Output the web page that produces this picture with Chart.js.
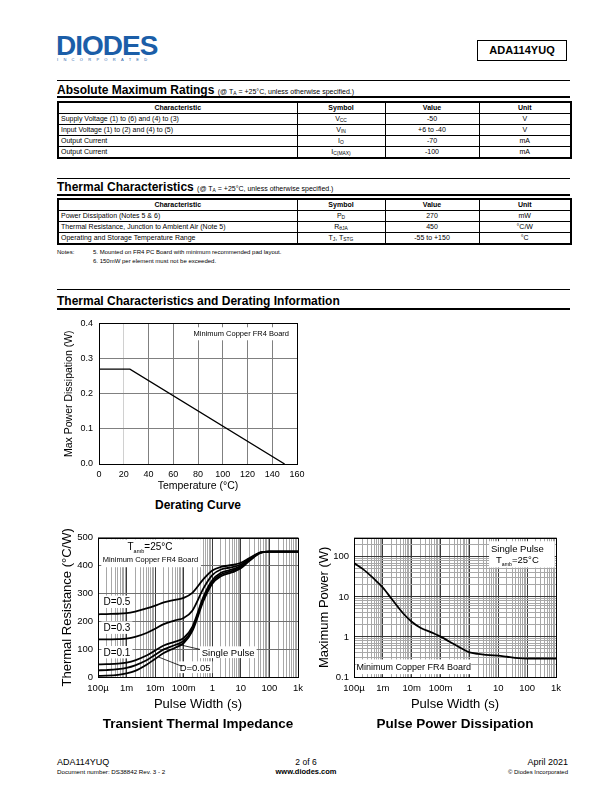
<!DOCTYPE html>
<html><head><meta charset="utf-8">
<script src="https://cdn.jsdelivr.net/npm/chart.js@4.4.1/dist/chart.umd.min.js"></script>
<style>
body{margin:0;background:#fff;font-family:"Liberation Sans",Arial,sans-serif;color:#000}
#page{position:relative;width:612px;height:792px;overflow:hidden;background:#fff}
.t{position:absolute;white-space:nowrap;line-height:1}
.hl{position:absolute;left:57px;width:513px;background:#000}
.h{font-weight:bold;font-size:12px}
.h span{font-weight:normal;font-size:7px}
sub{font-size:70%;vertical-align:-1px;line-height:0}
table{position:absolute;left:57px;border-collapse:collapse;table-layout:fixed;border:2px solid #000;width:513px}
td{border:1px solid #000;height:10px;padding:0 2px;font-size:7px;line-height:10px;white-space:nowrap;overflow:hidden;text-align:center;color:#000}
td.l{text-align:left}
tr.hd td{font-weight:bold}
canvas{position:absolute}
</style></head><body><div id="page">

<div class="t" style="left:56px;top:32px;font-size:28px;font-weight:bold;color:#1b5ea8;letter-spacing:-1px">DIODES</div>
<div class="t" style="left:57px;top:58px;font-size:4px;letter-spacing:5.3px;color:#1b5ea8">INCORPORATED</div>
<div class="t" style="left:477px;top:40px;width:88px;height:19px;border:1.5px solid #000;font-weight:bold;font-size:11px;line-height:19px;text-align:center">ADA114YUQ</div>

<div class="hl" style="top:80px;height:1px"></div>
<div class="t h" style="left:57px;top:84px">Absolute Maximum Ratings <span>(@ T<sub>A</sub> = +25°C, unless otherwise specified.)</span></div>
<div class="hl" style="top:96px;height:2px"></div>
<table style="top:101px">
<colgroup><col style="width:239px"><col style="width:88px"><col style="width:94px"><col style="width:92px"></colgroup>
<tr class="hd"><td>Characteristic</td><td>Symbol</td><td>Value</td><td>Unit</td></tr>
<tr><td class="l">Supply Voltage (1) to (6) and (4) to (3)</td><td>V<sub>CC</sub></td><td>-50</td><td>V</td></tr>
<tr><td class="l">Input Voltage (1) to (2) and (4) to (5)</td><td>V<sub>IN</sub></td><td>+6 to -40</td><td>V</td></tr>
<tr><td class="l">Output Current</td><td>I<sub>O</sub></td><td>-70</td><td>mA</td></tr>
<tr><td class="l">Output Current</td><td>I<sub>C(MAX)</sub></td><td>-100</td><td>mA</td></tr>
</table>

<div class="hl" style="top:178px;height:1px"></div>
<div class="t h" style="left:57px;top:181px">Thermal Characteristics <span>(@ T<sub>A</sub> = +25°C, unless otherwise specified.)</span></div>
<div class="hl" style="top:194px;height:2px"></div>
<table style="top:198px">
<colgroup><col style="width:239px"><col style="width:88px"><col style="width:94px"><col style="width:92px"></colgroup>
<tr class="hd"><td>Characteristic</td><td>Symbol</td><td>Value</td><td>Unit</td></tr>
<tr><td class="l">Power Dissipation (Notes 5 &amp; 6)</td><td>P<sub>D</sub></td><td>270</td><td>mW</td></tr>
<tr><td class="l">Thermal Resistance, Junction to Ambient Air (Note 5)</td><td>R<sub>θJA</sub></td><td>450</td><td>°C/W</td></tr>
<tr><td class="l">Operating and Storage Temperature Range</td><td>T<sub>J</sub>, T<sub>STG</sub></td><td>-55 to +150</td><td>°C</td></tr>
</table>
<div class="t" style="left:57px;top:249px;font-size:6px">Notes:</div>
<div class="t" style="left:93px;top:249px;font-size:6px">5. Mounted on FR4 PC Board with minimum recommended pad layout.</div>
<div class="t" style="left:93px;top:258px;font-size:6px">6. 150mW per element must not be exceeded.</div>

<div class="hl" style="top:289px;height:1px"></div>
<div class="t h" style="left:57px;top:295px">Thermal Characteristics and Derating Information</div>
<div class="hl" style="top:308px;height:2px"></div>

<canvas id="derating" width="262" height="184" style="left:50px;top:312px"></canvas>
<div class="t" style="left:50px;width:296px;top:499px;text-align:center;font-weight:bold;font-size:12px">Derating Curve</div>

<canvas id="transient" width="260" height="190" style="left:50px;top:527px"></canvas>
<div class="t" style="left:48px;width:300px;top:717px;text-align:center;font-weight:bold;font-size:13.5px">Transient Thermal Impedance</div>

<canvas id="pulse" width="262" height="190" style="left:310px;top:527px"></canvas>
<div class="t" style="left:305px;width:300px;top:717px;text-align:center;font-weight:bold;font-size:13.5px">Pulse Power Dissipation</div>

<div class="t" style="left:57px;top:758px;font-size:9px">ADA114YUQ</div>
<div class="t" style="left:57px;top:769px;font-size:6.2px">Document number: DS38842 Rev. 3 - 2</div>
<div class="t" style="left:206px;width:200px;top:758px;font-size:8.5px;text-align:center">2 of 6</div>
<div class="t" style="left:206px;width:200px;top:768px;font-size:7.5px;font-weight:bold;text-align:center">www.diodes.com</div>
<div class="t" style="left:368px;width:200px;top:758px;font-size:9px;text-align:right">April 2021</div>
<div class="t" style="left:368px;width:200px;top:769px;font-size:6px;text-align:right">© Diodes Incorporated</div>
</div>

<script>
// ---------- data ----------
const deratingTemp = [0, 25, 150];
const deratingPower = [0.27, 0.27, 0];
const pulseWidth = [1e-4, 2e-4, 5e-4, 1e-3, 2e-3, 5e-3, 1e-2, 2e-2, 5e-2, 1e-1, 2e-1, 5e-1, 1, 2, 5, 10, 20, 50, 100, 200, 500, 1000];
const zthD05 = [225, 226, 227, 229, 235, 246, 256, 268, 277, 284, 302, 352, 382, 395, 402, 410, 427, 447, 450, 450, 450, 450];
const zthD03 = [135, 135, 136, 138, 144, 158, 173, 190, 203, 212, 238, 320, 366, 386, 394, 404, 424, 447, 450, 450, 450, 450];
const zthD01 = [45, 46, 48, 52, 60, 77, 95, 113, 127, 140, 180, 290, 347, 374, 386, 398, 421, 447, 450, 450, 450, 450];
const zthD005 = [24, 25, 28, 33, 42, 60, 80, 99, 115, 130, 172, 283, 340, 368, 381, 394, 419, 446, 450, 450, 450, 450];
const zthSingle = [4, 5, 8, 13, 22, 44, 65, 86, 105, 122, 165, 275, 335, 362, 376, 390, 417, 446, 450, 450, 450, 450];
const pulsePower = [70, 50, 28, 17, 9, 3.9, 2.4, 1.7, 1.28, 1.02, 0.77, 0.53, 0.41, 0.38, 0.35, 0.343, 0.32, 0.295, 0.29, 0.29, 0.29, 0.29];
const timeTickValues = [1e-4, 1e-3, 1e-2, 1e-1, 1, 10, 100, 1000];
const timeTickLabels = ['100µ', '1m', '10m', '100m', '1', '10', '100', '1k'];
const powerLogTickValues = [0.1, 1, 10, 100];
const powerLogTickLabels = ['0.1', '1', '10', '100'];

// ---------- helpers ----------
const FAM = '"Liberation Sans", Arial, sans-serif';
Chart.defaults.font.family = FAM;
Chart.defaults.color = '#000';
const isDecade = v => Math.abs(Math.log10(v) - Math.round(Math.log10(v))) < 1e-6;
function logTicks(minExp, maxExp, maxVal) {
  const out = [];
  for (let e = minExp; e <= maxExp; e++) for (let m = 1; m <= 9; m++) {
    const v = +(m * Math.pow(10, e)).toPrecision(3);
    if (v <= maxVal * 1.000001) out.push(v);
  }
  return out;
}
function lookup(vals, labels, v) {
  for (let i = 0; i < vals.length; i++) if (Math.abs(v / vals[i] - 1) < 1e-6) return labels[i];
  return '';
}
function drawRich(ctx, segs, cx, cy, size, bg) {
  let w = 0;
  const parts = segs.map(s => {
    const f = (s.sub ? size * 0.55 : size) + 'px ' + FAM;
    ctx.font = f; const mw = ctx.measureText(s.t).width; w += mw;
    return {t: s.t, f, mw, sub: s.sub};
  });
  if (bg) { ctx.fillStyle = '#fff'; ctx.fillRect(cx - w / 2 - 2, cy - size * 0.62, w + 4, size * 1.24); }
  let x = cx - w / 2; ctx.fillStyle = '#000'; ctx.textAlign = 'left'; ctx.textBaseline = 'alphabetic';
  const base = cy + size * 0.36;
  parts.forEach(p => { ctx.font = p.f; ctx.fillText(p.t, x, base + (p.sub ? size * 0.28 : 0)); x += p.mw; });
}
function makeNotes(cfg) {
  return {
    id: 'notes',
    beforeDatasetsDraw(chart) {
      const {ctx} = chart, xs = chart.scales.x, ys = chart.scales.y;
      ctx.save();
      (cfg.boxes || []).forEach(b => {
        const x1 = xs.getPixelForValue(b[0]), x2 = xs.getPixelForValue(b[1]);
        const y1 = ys.getPixelForValue(b[2]), y2 = ys.getPixelForValue(b[3]);
        ctx.fillStyle = '#fff';
        ctx.fillRect(Math.min(x1, x2), Math.min(y1, y2), Math.abs(x2 - x1), Math.abs(y2 - y1));
      });
      (cfg.labels || []).forEach(l => drawRich(ctx, l.segs, xs.getPixelForValue(l.x), ys.getPixelForValue(l.y), l.size, l.bg));
      ctx.restore();
    },
    afterDatasetsDraw(chart) {
      const {ctx} = chart, xs = chart.scales.x, ys = chart.scales.y;
      ctx.save(); ctx.strokeStyle = '#000'; ctx.lineWidth = 0.8;
      (cfg.lines || []).forEach(l => {
        ctx.beginPath();
        ctx.moveTo(xs.getPixelForValue(l[0]), ys.getPixelForValue(l[1]));
        ctx.lineTo(xs.getPixelForValue(l[2]), ys.getPixelForValue(l[3]));
        ctx.stroke();
      });
      ctx.restore();
    },
    afterDraw(chart) {
      const {ctx, chartArea: a} = chart;
      ctx.save();
      ctx.strokeStyle = '#000'; ctx.lineWidth = 1;
      ctx.strokeRect(Math.round(a.left) + 0.5, Math.round(a.top) + 0.5, Math.round(a.right - a.left), Math.round(a.bottom - a.top));
      ctx.fillStyle = '#000'; ctx.textAlign = 'center'; ctx.textBaseline = 'middle';
      if (cfg.yTitle) {
        ctx.font = cfg.yTitle.size + 'px ' + FAM;
        ctx.save(); ctx.translate(a.left - cfg.yTitle.offset, (a.top + a.bottom) / 2); ctx.rotate(-Math.PI / 2);
        ctx.fillText(cfg.yTitle.text, 0, 0); ctx.restore();
      }
      if (cfg.xTitle) {
        ctx.font = cfg.xTitle.size + 'px ' + FAM;
        ctx.fillText(cfg.xTitle.text, (a.left + a.right) / 2, a.bottom + cfg.xTitle.offset);
      }
      ctx.restore();
    }
  };
}
const baseOpts = (pad) => ({
  responsive: false, animation: false, devicePixelRatio: 1,
  layout: {padding: pad},
  plugins: {legend: {display: false}, tooltip: {enabled: false}},
  elements: {point: {radius: 0}}
});

// ---------- Derating curve ----------
(function () {
  const o = baseOpts({left: 0, top: 9, right: 15, bottom: 0});
  o.scales = {
    x: {type: 'linear', min: 0, max: 160,
      afterFit: s => { s.height = 32; },
      ticks: {stepSize: 20, padding: 5, maxRotation: 0, font: {size: 9}},
      grid: {drawTicks: false, color: c => (c.tick && c.tick.value === 20) ? '#d0d0d0' : '#808080'},
      border: {display: false}},
    y: {type: 'linear', min: 0, max: 0.4,
      afterFit: s => { s.width = 49; },
      ticks: {stepSize: 0.1, padding: 6, font: {size: 9}, callback: v => v.toFixed(1)},
      grid: {drawTicks: false, color: '#808080'},
      border: {display: false}}
  };
  new Chart(document.getElementById('derating'), {
    type: 'line',
    data: {datasets: [{data: deratingTemp.map((t, i) => ({x: t, y: deratingPower[i]})), borderColor: '#000', borderWidth: 1.3, tension: 0}]},
    options: o,
    plugins: [makeNotes({
      boxes: [[73, 157, 0.389, 0.352]],
      labels: [{x: 115, y: 0.372, size: 7.5, segs: [{t: 'Minimum Copper FR4 Board'}]}],
      yTitle: {text: 'Max Power Dissipation (W)', size: 10.5, offset: 30},
      xTitle: {text: 'Temperature (°C)', size: 10.5, offset: 22}
    })]
  });
})();

// ---------- log x axis ----------
function timeAxis() {
  return {type: 'logarithmic', min: 1e-4, max: 1000,
    afterBuildTicks: s => { s.ticks = logTicks(-4, 3, 1000).map(v => ({value: v, major: isDecade(v)})); },
    afterFit: s => { s.height = 40; },
    ticks: {autoSkip: false, maxRotation: 0, padding: 6, font: {size: 9.5},
      callback: v => lookup(timeTickValues, timeTickLabels, v)},
    grid: {drawTicks: false, color: c => (c.tick && isDecade(c.tick.value)) ? '#3a3a3a' : '#a8a8a8'},
    border: {display: false}};
}

// ---------- Transient thermal impedance ----------
(function () {
  const o = baseOpts({left: 0, top: 10, right: 12, bottom: 0});
  o.scales = {
    x: timeAxis(),
    y: {type: 'linear', min: 0, max: 500,
      afterFit: s => { s.width = 48; },
      ticks: {stepSize: 100, padding: 5, font: {size: 9.5}},
      grid: {drawTicks: false, color: '#707070'},
      border: {display: false}}
  };
  const series = [zthD05, zthD03, zthD01, zthD005, zthSingle];
  new Chart(document.getElementById('transient'), {
    type: 'line',
    data: {datasets: series.map(s => ({data: pulseWidth.map((t, i) => ({x: t, y: s[i]})), borderColor: '#000', borderWidth: 1.8, cubicInterpolationMode: 'monotone', tension: 0.4}))},
    options: o,
    plugins: [makeNotes({
      boxes: [[1.3e-4, 0.4, 394, 494]],
      labels: [
        {x: 6.6e-3, y: 468, size: 10, segs: [{t: 'T'}, {t: 'amb', sub: 1}, {t: '=25°C'}]},
        {x: 6.8e-3, y: 422, size: 7.5, segs: [{t: 'Minimum Copper FR4 Board'}]},
        {x: 4.6e-4, y: 270, size: 10, bg: 1, segs: [{t: 'D=0.5'}]},
        {x: 4.6e-4, y: 177, size: 10, bg: 1, segs: [{t: 'D=0.3'}]},
        {x: 4.6e-4, y: 89, size: 10, bg: 1, segs: [{t: 'D=0.1'}]},
        {x: 3.6, y: 89, size: 9.5, bg: 1, segs: [{t: 'Single Pulse'}]},
        {x: 0.25, y: 35, size: 9.5, bg: 1, segs: [{t: 'D=0.05'}]}
      ],
      lines: [[0.37, 99, 0.065, 117], [0.089, 38, 0.0129, 72]],
      yTitle: {text: 'Thermal Resistance (°C/W)', size: 13, offset: 31},
      xTitle: {text: 'Pulse Width (s)', size: 13, offset: 27}
    })]
  });
})();

// ---------- Pulse power dissipation ----------
(function () {
  const o = baseOpts({left: 0, top: 10, right: 16, bottom: 0});
  o.scales = {
    x: timeAxis(),
    y: {type: 'logarithmic', min: 0.1, max: 300,
      afterBuildTicks: s => { s.ticks = logTicks(-1, 2, 300).map(v => ({value: v, major: isDecade(v)})); },
      afterFit: s => { s.width = 44; },
      ticks: {autoSkip: false, padding: 5, font: {size: 9.5},
        callback: v => lookup(powerLogTickValues, powerLogTickLabels, v)},
      grid: {drawTicks: false, color: c => (c.tick && isDecade(c.tick.value)) ? '#3a3a3a' : '#a8a8a8'},
      border: {display: false}}
  };
  new Chart(document.getElementById('pulse'), {
    type: 'line',
    data: {datasets: [{data: pulseWidth.map((t, i) => ({x: t, y: pulsePower[i]})), borderColor: '#000', borderWidth: 1.8, cubicInterpolationMode: 'monotone', tension: 0.4}]},
    options: o,
    plugins: [makeNotes({
      boxes: [[4.8, 900, 54, 245], [1.22e-4, 1.15, 0.118, 0.275]],
      labels: [
        {x: 46, y: 157, size: 9.5, segs: [{t: 'Single Pulse'}]},
        {x: 46, y: 84.5, size: 9.5, segs: [{t: 'T'}, {t: 'amb', sub: 1}, {t: '=25°C'}]},
        {x: 0.0118, y: 0.18, size: 9, segs: [{t: 'Minimum Copper FR4 Board'}]}
      ],
      yTitle: {text: 'Maximum Power (W)', size: 13, offset: 30},
      xTitle: {text: 'Pulse Width (s)', size: 13, offset: 27}
    })]
  });
})();
</script>
</body></html>
